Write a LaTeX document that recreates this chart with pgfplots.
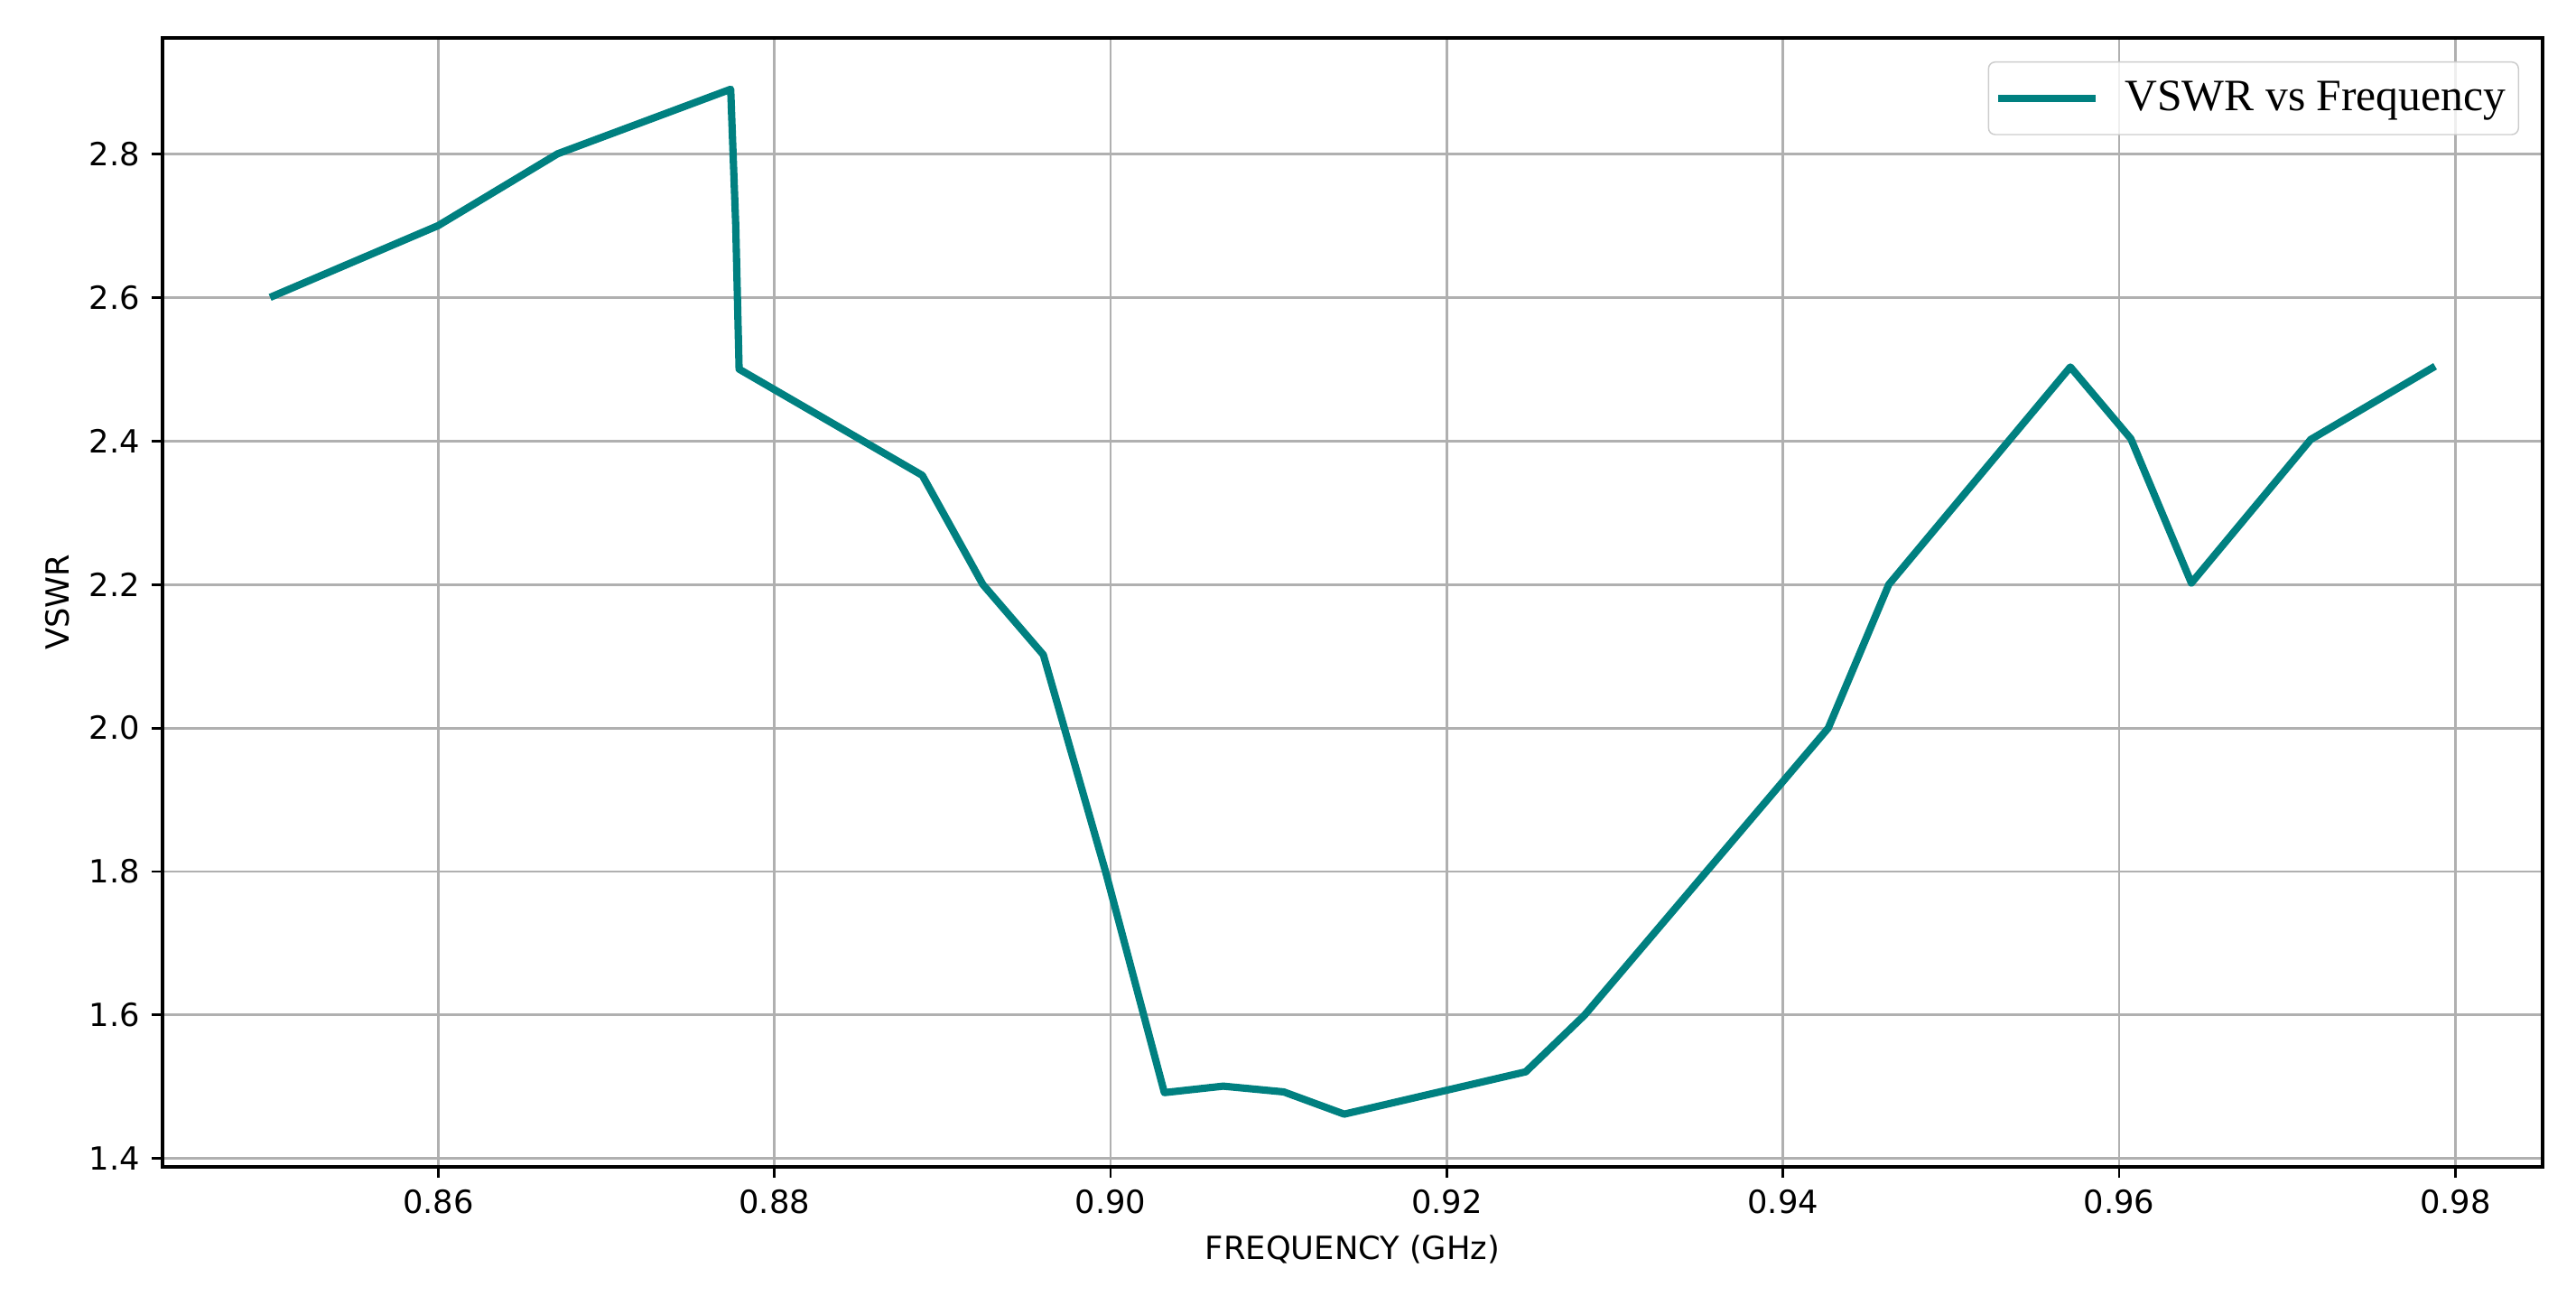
\documentclass[border=0pt]{standalone}
\usepackage{fontspec}
\setmainfont{DejaVu Sans}
\newfontfamily\legendfont{Liberation Serif}
\usepackage{pgfplots}
\pgfplotsset{compat=1.18}
\usepackage{pgfplotstable}
\definecolor{teal}{RGB}{0,128,128}
\definecolor{gridgray}{RGB}{176,176,176}
\pgfplotstableread{
x y
0.8500 2.600
0.8600 2.700
0.8671 2.800
0.8774 2.890
0.8777 2.700
0.8779 2.500
0.8888 2.352
0.8924 2.200
0.8960 2.102
0.8997 1.800
0.9032 1.492
0.9067 1.501
0.9103 1.493
0.9139 1.462
0.9247 1.521
0.9282 1.600
0.9427 2.000
0.9463 2.200
0.9571 2.503
0.9607 2.403
0.9643 2.202
0.9714 2.402
0.9788 2.504
}\vswrdata
\begin{document}
\begin{tikzpicture}
\begin{axis}[
  scale only axis,
  width=25.20cm, height=11.95cm,
  xmin=0.8436, xmax=0.9852,
  ymin=1.3885, ymax=2.9615,
  clip=false,
  axis line style={black, line width=0.9pt},
  xtick={0.86,0.88,0.90,0.92,0.94,0.96,0.98},
  ytick={1.4,1.6,1.8,2.0,2.2,2.4,2.6,2.8},
  xtick pos=bottom, ytick pos=left,
  tick align=outside,
  major tick length=3.3pt,
  tick style={black, line width=0.8pt},
  grid=major,
  major grid style={gridgray, line width=0.8pt},
  /pgf/number format/assume math mode=true,
  xticklabel style={font=\fontsize{9.6}{11.5}\selectfont, /pgf/number format/.cd, fixed, fixed zerofill, precision=2},
  yticklabel style={font=\fontsize{9.6}{11.5}\selectfont, /pgf/number format/.cd, fixed, fixed zerofill, precision=1},
  scaled x ticks=false, scaled y ticks=false,
  xlabel={FREQUENCY (GHz)},
  ylabel={VSWR},
  xlabel style={font=\fontsize{9.6}{11.5}\selectfont, at={(axis description cs:0.5,-0.0816)}, anchor=base},
  ylabel style={font=\fontsize{9.6}{11.5}\selectfont, at={(axis description cs:-0.0442,0.5)}, anchor=center},
  legend cell align=left,
  legend image code/.code={\draw[#1] (0cm,0cm) -- (1.03cm,0cm);},
  legend style={font=\legendfont\fontsize{13.5}{16}\selectfont,
    at={(0.9901,0.9792)}, anchor=north east,
    draw=black!20, fill=white, fill opacity=0.8, text opacity=1,
    rounded corners=2pt, inner xsep=1.8pt, inner ysep=3.7pt,
    column sep=5.8pt},
]
\addplot[teal, line width=2.2pt, line join=round] table[x=x, y=y] {\vswrdata};
\addlegendentry{VSWR vs Frequency}
\path (rel axis cs:-0.0683,-0.1304) (rel axis cs:1.0140,1.0336);
\end{axis}
\end{tikzpicture}
\end{document}
